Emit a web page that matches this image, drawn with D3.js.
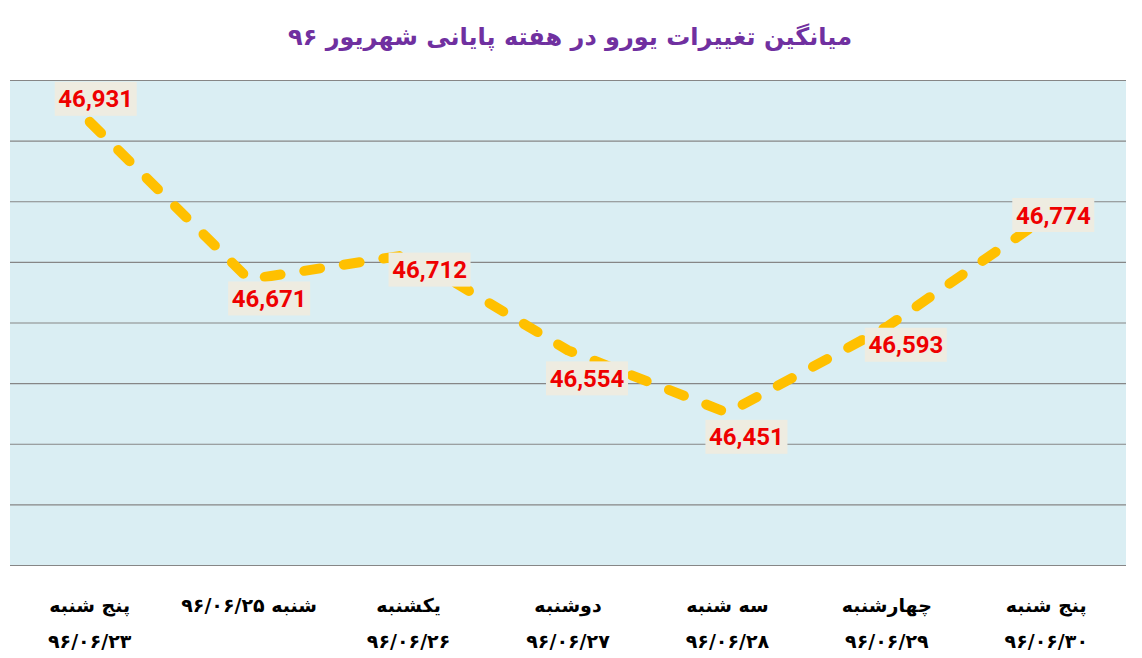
<!DOCTYPE html>
<html>
<head>
<meta charset="utf-8">
<script src="https://cdn.jsdelivr.net/npm/d3@7"></script>
<style>
  body { margin: 0; background: #fff; }
  svg { display: block; }
</style>
</head>
<body>
<div id="graf"></div>
<script>
// data
const titulo = 'میانگین تغییرات یورو در هفته پایانی شهریور ۹۶'
const dias = ['پنج شنبه', 'شنبه ۹۶/۰۶/۲۵', 'یکشنبه', 'دوشنبه', 'سه شنبه', 'چهارشنبه', 'پنج شنبه']
const fechas = ['۹۶/۰۶/۲۳', '', '۹۶/۰۶/۲۶', '۹۶/۰۶/۲۷', '۹۶/۰۶/۲۸', '۹۶/۰۶/۲۹', '۹۶/۰۶/۳۰']
const valores = [46931, 46671, 46712, 46554, 46451, 46593, 46774]
const yTicks = [46200, 46300, 46400, 46500, 46600, 46700, 46800, 46900, 47000]

// label placement relative to its point (layout only)
const labelOffset = [[6, -23], [20, 19], [21, 15], [19, 28], [19, 24], [19, 18], [7, -2]]

const anchoTotal = 1142
const altoTotal = 658
const margin = { top: 80, bottom: 93, left: 10, right: 16 }
const ancho = anchoTotal - margin.left - margin.right
const alto = altoTotal - margin.top - margin.bottom

const svg = d3.select('#graf')
  .append('svg')
  .attr('width', anchoTotal)
  .attr('height', altoTotal)

svg.append('text')
  .attr('x', 570)
  .attr('y', 45)
  .attr('text-anchor', 'middle')
  .attr('direction', 'rtl')
  .style('font-family', '"DejaVu Sans", sans-serif')
  .style('font-weight', 'bold')
  .style('font-size', '24px')
  .attr('fill', '#7030a0')
  .text(titulo)

const g = svg.append('g')
  .attr('transform', `translate(${margin.left}, ${margin.top})`)

const x = d3.scalePoint()
  .domain(d3.range(valores.length))
  .range([0, ancho])
  .padding(0.5)

const y = d3.scaleLinear()
  .domain([46200, 47000])
  .range([alto, 0])

g.append('rect')
  .attr('width', ancho)
  .attr('height', alto)
  .attr('fill', '#daeef3')

const yAxisGroup = g.append('g')
  .call(d3.axisLeft(y).tickValues(yTicks).tickSize(-ancho).tickFormat(''))
yAxisGroup.select('.domain').remove()
yAxisGroup.selectAll('line').attr('stroke', '#868686').attr('stroke-width', 1.2)

// x labels
const etiquetas = g.append('g')
  .attr('transform', `translate(0, ${alto})`)

etiquetas.selectAll('text.dia')
  .data(dias)
  .enter()
  .append('text')
  .attr('class', 'dia')
  .attr('x', (d, i) => x(i))
  .attr('y', 47)
  .attr('text-anchor', 'middle')
  .attr('direction', 'rtl')
  .style('font-family', '"DejaVu Sans", sans-serif')
  .style('font-weight', 'bold')
  .style('font-size', '19px')
  .attr('fill', '#000')
  .text(d => d)

etiquetas.selectAll('text.fecha')
  .data(fechas)
  .enter()
  .append('text')
  .attr('class', 'fecha')
  .attr('x', (d, i) => x(i))
  .attr('y', 83)
  .attr('text-anchor', 'middle')
  .attr('direction', 'rtl')
  .style('font-family', '"DejaVu Sans", sans-serif')
  .style('font-weight', 'bold')
  .style('font-size', '19px')
  .attr('fill', '#000')
  .text(d => d)

// line
const linea = d3.line()
  .x((d, i) => x(i))
  .y(d => y(d))

g.append('path')
  .datum(valores)
  .attr('d', linea)
  .attr('fill', 'none')
  .attr('stroke', '#ffc000')
  .attr('stroke-width', 10)
  .attr('stroke-linecap', 'round')
  .attr('stroke-linejoin', 'round')
  .attr('stroke-dasharray', '16 24')

// data labels
const fmt = d3.format(',')
const labels = g.selectAll('g.lbl')
  .data(valores)
  .enter()
  .append('g')
  .attr('class', 'lbl')
  .attr('transform', (d, i) => `translate(${x(i) + labelOffset[i][0]}, ${y(d) + labelOffset[i][1]})`)

labels.append('rect')
  .attr('x', -41)
  .attr('y', -17)
  .attr('width', 82)
  .attr('height', 34)
  .attr('fill', '#eeece1')

labels.append('text')
  .attr('text-anchor', 'middle')
  .attr('dy', '0.36em')
  .style('font-family', 'Roboto, sans-serif')
  .style('font-weight', 'bold')
  .style('font-size', '24px')
  .attr('fill', '#ee0000')
  .text(d => fmt(d))
</script>
</body>
</html>
